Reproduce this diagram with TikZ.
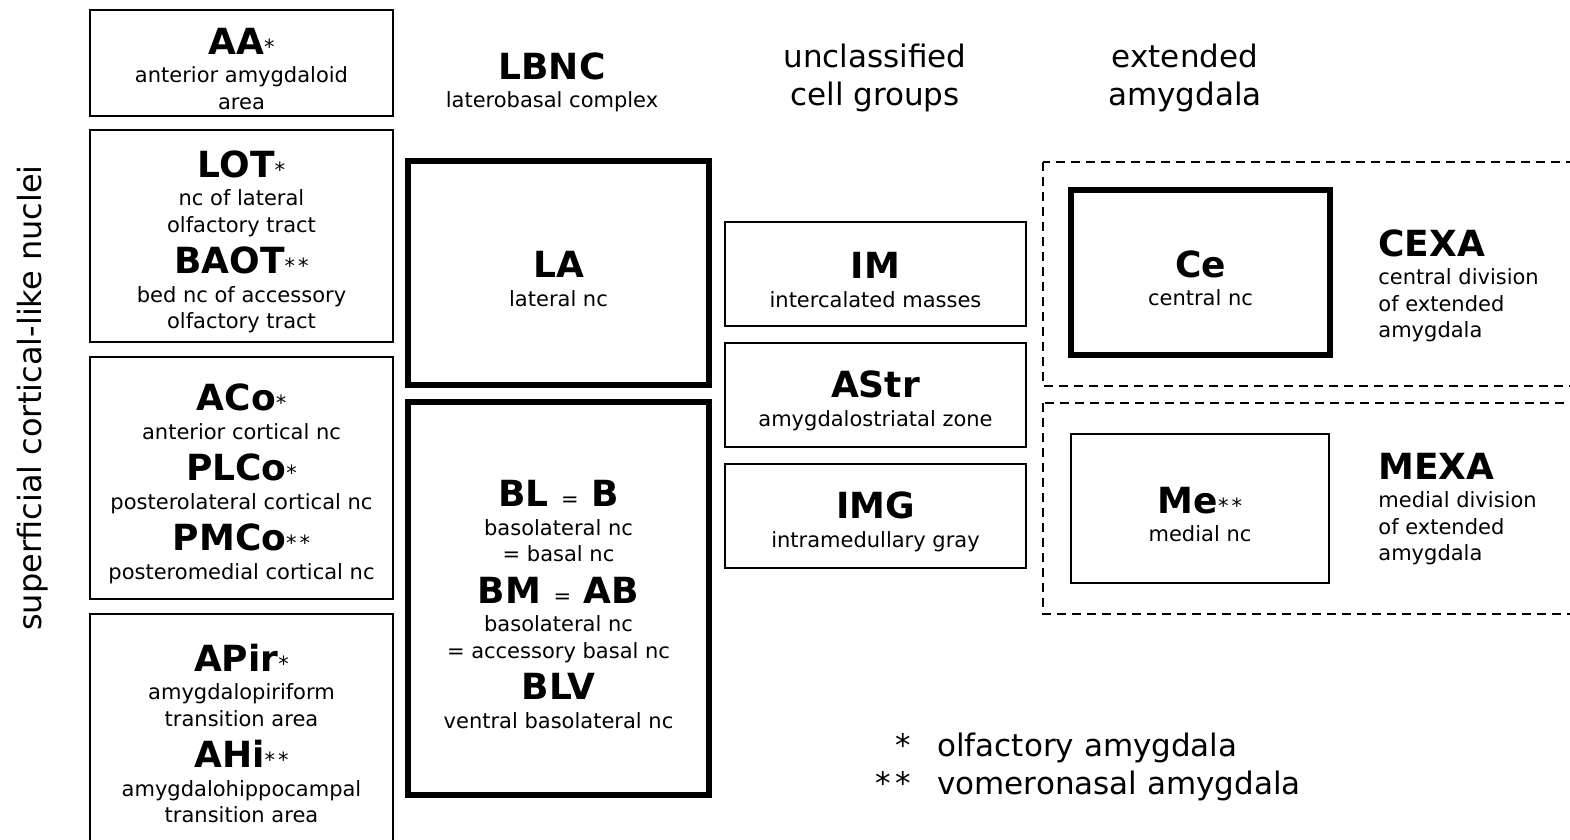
\documentclass[tikz,border=0pt]{standalone}
\usepackage{fontspec}
\setmainfont{DejaVu Sans}
\newcommand{\subfont}{\fontsize{10.5}{13.25}\selectfont\lineskiplimit=-50pt\relax}
\newcommand{\headfont}{\fontsize{15.5}{18.75}\selectfont\lineskiplimit=-50pt\relax}
\newcommand{\nucname}[2]{\rule{0pt}{19pt}{\fontsize{18}{18}\selectfont\bfseries #1}#2}
\newcommand{\dstar}{*\kern1.5pt*}

\begin{document}
\begin{tikzpicture}[x=0.5pt,y=-0.5pt]
\tikzset{thinbox/.style={draw, line width=1pt, align=center, inner sep=0pt, font=\subfont},
  thickbox/.style={thinbox, line width=3pt},
  region/.style={draw, line width=1pt, dash pattern=on 4.5pt off 3pt},
  header/.style={align=center, inner sep=0pt, anchor=north},
  sidetext/.style={align=left, inner sep=0pt, anchor=north west, font=\subfont}}
\useasboundingbox (0,0) rectangle (1570,840);
\node[rotate=90, inner sep=0pt, font=\fontsize{16}{19}\selectfont] (side) at (33,398) {superficial cortical-like nuclei};
\node[thinbox, minimum width=151.5pt, minimum height=53pt] (AA) at (241.5,63) {\nucname{AA}{*}\\[1pt] anterior amygdaloid\\ area};
\node[thinbox, minimum width=151.5pt, minimum height=106pt] (LOT) at (241.5,236) {\nucname{LOT}{*}\\[1pt] nc of lateral\\ olfactory tract\\[7.5pt] \nucname{BAOT}{\dstar}\\[1pt] bed nc of accessory\\ olfactory tract};
\node[thinbox, minimum width=151.5pt, minimum height=121pt] (ACo) at (241.5,478) {\nucname{ACo}{*}\\[1pt] anterior cortical nc\\[7.5pt] \nucname{PLCo}{*}\\[1pt] posterolateral cortical nc\\[7.5pt] \nucname{PMCo}{\dstar}\\[1pt] posteromedial cortical nc};
\node[thinbox, minimum width=151.5pt, minimum height=114pt] (APir) at (241.5,728) {\nucname{APir}{*}\\[1pt] amygdalopiriform\\ transition area\\[7.5pt] \nucname{AHi}{\dstar}\\[1pt] amygdalohippocampal\\ transition area};
\node[header, font=\subfont] (LBNC) at (552,41) {\nucname{LBNC}{}\\[1pt] laterobasal complex};
\node[thickbox, minimum width=150.5pt, minimum height=112pt] (LA) at (558.5,273) {\nucname{LA}{}\\[1pt] lateral nc};
\node[thickbox, minimum width=150.5pt, minimum height=196.5pt] (BL) at (558.5,598.5) {\nucname{BL {\subfont\mdseries =} B}{}\\[1pt] basolateral nc\\ = basal nc\\[7.5pt] \nucname{BM {\subfont\mdseries =} AB}{}\\[1pt] basolateral nc\\ = accessory basal nc\\[7.5pt] \nucname{BLV}{}\\[1pt] ventral basolateral nc};
\node[header, font=\headfont] (uncl) at (875,44) {unclassified\\ cell groups};
\node[thinbox, minimum width=150.5pt, minimum height=52pt] (IM) at (875.5,274) {\nucname{IM}{}\\[1pt] intercalated masses};
\node[thinbox, minimum width=150.5pt, minimum height=52pt] (AStr) at (875.5,395) {\nucname{AStr}{}\\[1pt] amygdalostriatal zone};
\node[thinbox, minimum width=150.5pt, minimum height=52pt] (IMG) at (875.5,516) {\nucname{IMG}{}\\[1pt] intramedullary gray};
\node[header, font=\headfont] (ext) at (1185,44) {extended\\ amygdala};
\draw[region] (1043,162) rectangle (1580,386);
\draw[region] (1043,403) rectangle (1580,614);
\node[thickbox, minimum width=129.5pt, minimum height=82.5pt] (Ce) at (1200.5,272.5) {\nucname{Ce}{}\\[1pt] central nc};
\node[thinbox, minimum width=129pt, minimum height=74.5pt] (Me) at (1200,508.5) {\nucname{Me}{\dstar}\\[1pt] medial nc};
\node[sidetext] (CEXA) at (1378,218) {\nucname{CEXA}{}\\[1pt] central division\\ of extended\\ amygdala};
\node[sidetext] (MEXA) at (1378,441) {\nucname{MEXA}{}\\[1pt] medial division\\ of extended\\ amygdala};
\node[inner sep=0pt, anchor=north west, font=\fontsize{15.5}{18.75}\selectfont] (legend) at (875,730) {\begin{tabular}{@{}r@{\hspace{13pt}}l@{}}
{*}&olfactory amygdala\\
{*\kern2.5pt*}&vomeronasal amygdala
\end{tabular}};
\end{tikzpicture}
\end{document}
